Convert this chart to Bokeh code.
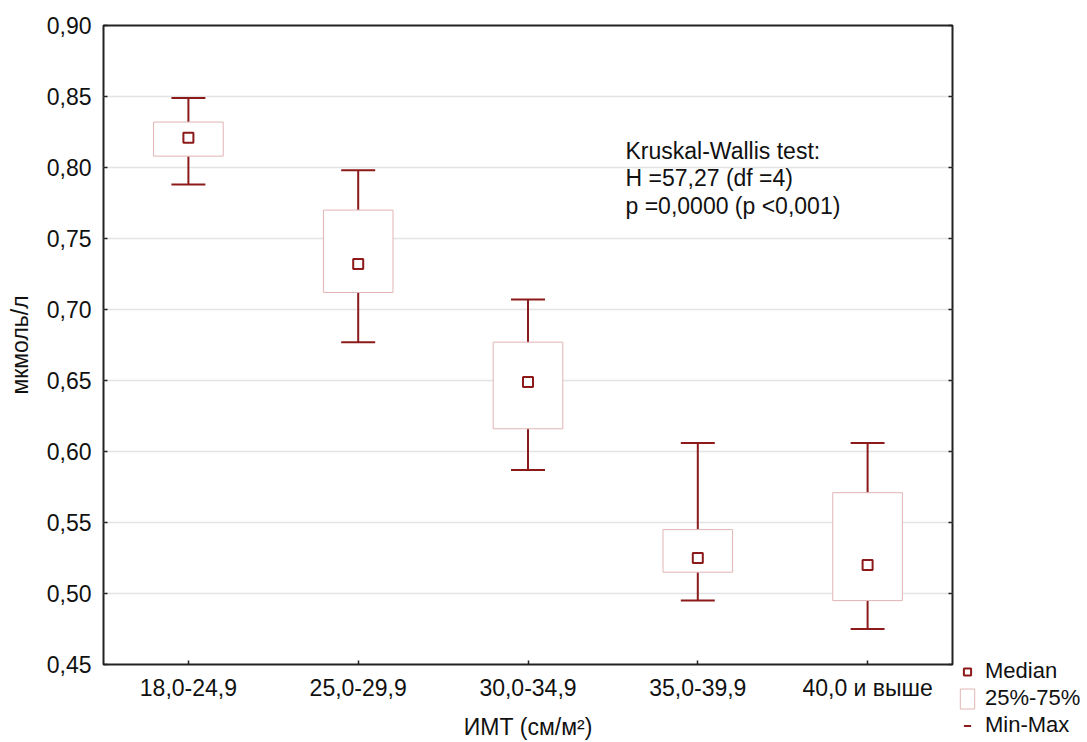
import numpy as np
from bokeh.plotting import figure
from bokeh.layouts import row, column
from bokeh.models import (Range1d, FixedTicker, LinearAxis, CustomJSTickFormatter,
                          Legend, LegendItem, Label, ColumnDataSource)
from bokeh.embed import file_html
from bokeh.resources import INLINE

categories = ["18,0-24,9", "25,0-29,9", "30,0-34,9", "35,0-39,9", "40,0 и выше"]
mins    = [0.788, 0.677, 0.587, 0.495, 0.475]
q1      = [0.808, 0.712, 0.616, 0.515, 0.495]
medians = [0.821, 0.732, 0.649, 0.525, 0.520]
q3      = [0.832, 0.770, 0.677, 0.545, 0.571]
maxs    = [0.849, 0.798, 0.707, 0.606, 0.606]
y_ticks = [0.45, 0.50, 0.55, 0.60, 0.65, 0.70, 0.75, 0.80, 0.85, 0.90]
stats_lines = ["Kruskal-Wallis test:", "H =57,27 (df =4)", "p =0,0000 (p <0,001)"]
legend_labels = ["Median", "25%-75%", "Min-Max"]

FONT = "Liberation Sans"
DARK = "#8c1a1a"
BOXLINE = "#e2b4b4"
FS = "23px"

x = np.arange(1, len(categories) + 1)
src = ColumnDataSource(dict(x=x, mn=mins, q1=q1, med=medians, q3=q3, mx=maxs,
                            cl=x - 0.1, cr=x + 0.1))

p = figure(width=957, height=742, output_backend="svg", toolbar_location=None,
           x_range=Range1d(0.5, len(categories) + 0.5), y_range=Range1d(0.45, 0.90),
           min_border_left=103, min_border_right=5, min_border_top=25,
           min_border_bottom=78)

p.outline_line_color = "#222222"
p.outline_line_width = 2
p.background_fill_color = "white"
p.border_fill_color = "white"

# axes
p.xaxis.ticker = FixedTicker(ticks=list(x))
p.xaxis.major_label_overrides = {int(i): c for i, c in zip(x, categories)}
p.yaxis.ticker = FixedTicker(ticks=y_ticks)
p.yaxis.formatter = CustomJSTickFormatter(code="return tick.toFixed(2).replace('.', ',');")
for ax in (p.xaxis[0], p.yaxis[0]):
    ax.major_tick_in = 4
    ax.major_tick_out = 0
    ax.minor_tick_line_color = None
    ax.axis_line_color = None
    ax.major_tick_line_color = "#222222"
    ax.major_tick_line_width = 1.5
    ax.major_label_text_font = FONT
    ax.major_label_text_font_size = FS
    ax.major_label_text_color = "#111111"
    ax.axis_label_text_font = FONT
    ax.axis_label_text_font_size = FS
    ax.axis_label_text_font_style = "normal"
    ax.axis_label_text_color = "#111111"
p.yaxis.axis_label = "мкмоль/л"
p.xaxis.axis_label = "ИМТ (см/м²)"
p.yaxis.major_label_standoff = 12
p.xaxis.major_label_standoff = 10
p.yaxis.axis_label_standoff = 11
p.xaxis.axis_label_standoff = 10

rax = LinearAxis(ticker=FixedTicker(ticks=y_ticks), major_tick_in=4, major_tick_out=0,
                 minor_tick_line_color=None, axis_line_color=None,
                 major_tick_line_color="#222222", major_tick_line_width=1.5,
                 major_label_text_font_size="0px", major_label_text_color=None,
                 major_label_standoff=0)
p.add_layout(rax, "right")

p.xgrid.grid_line_color = None
p.ygrid.ticker = FixedTicker(ticks=y_ticks)
p.ygrid.grid_line_color = "#e4e4e4"
p.ygrid.grid_line_width = 1.5

# whiskers
p.segment(x0="x", y0="mn", x1="x", y1="mx", source=src, line_color=DARK, line_width=2)
p.segment(x0="cl", y0="mx", x1="cr", y1="mx", source=src, line_color=DARK, line_width=2)
p.segment(x0="cl", y0="mn", x1="cr", y1="mn", source=src, line_color=DARK, line_width=2)
# boxes
p.vbar(x="x", width=0.41, bottom="q1", top="q3", source=src,
       fill_color="white", line_color=BOXLINE, line_width=1)
# medians
p.scatter(x="x", y="med", source=src, marker="square", size=10,
          fill_color="white", line_color=DARK, line_width=2)

ys = [514, 487, 459]
for t, yy in zip(stats_lines, ys):
    p.add_layout(Label(x=522, y=yy, x_units="screen", y_units="screen", text=t,
                       text_font=FONT, text_font_size=FS, text_color="#111111",
                       text_baseline="middle"))

# legend panel: a bare figure whose view lies away from the data, holding the legend
lg = figure(width=130, height=742, output_backend="svg", toolbar_location=None,
            x_range=Range1d(-2, -1), y_range=Range1d(-2, -1),
            min_border=0, x_axis_location=None, y_axis_location=None)
lg.outline_line_color = None
lg.grid.grid_line_color = None
lg_med = lg.scatter(x="x", y="med", source=src, marker="square", size=10,
                    fill_color="white", line_color=DARK, line_width=2)
lg_box = lg.vbar(x="x", width=0.41, bottom="q1", top="q3", source=src,
                 fill_color="white", line_color=BOXLINE, line_width=1)
lg_mm = lg.scatter(x="x", y="mx", source=src, marker="dash", angle=np.pi / 2, size=20,
                   line_color=DARK, line_width=2)

legend = Legend(items=[LegendItem(label=legend_labels[0], renderers=[lg_med]),
                       LegendItem(label=legend_labels[1], renderers=[lg_box]),
                       LegendItem(label=legend_labels[2], renderers=[lg_mm])],
                location=(1, 4), padding=0, margin=0, spacing=1,
                label_text_font=FONT, label_text_font_size="22px",
                label_text_color="#111111", glyph_width=18, glyph_height=25,
                label_height=25, label_standoff=9, border_line_color=None,
                background_fill_alpha=0)
lg.add_layout(legend, "center")

layout = row(p, column(lg, spacing=0), spacing=0)
open("out.html", "w").write(file_html(layout, INLINE))
